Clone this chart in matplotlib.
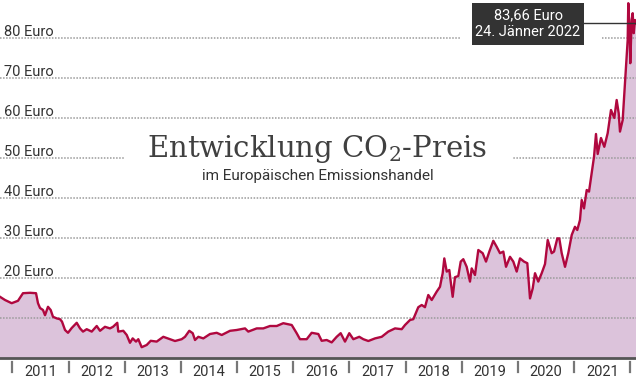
import matplotlib
matplotlib.use('Agg')
import matplotlib.pyplot as plt
from matplotlib.patches import Rectangle

# ---- data (decimal year, Euro per tonne) ----
dates = [2010.781, 2010.870, 2010.989, 2011.101, 2011.190, 2011.315, 2011.422, 2011.457,
         2011.493, 2011.546, 2011.582, 2011.635, 2011.683, 2011.724, 2011.790, 2011.849,
         2011.884, 2011.938, 2011.991, 2012.057, 2012.146, 2012.205, 2012.258, 2012.324,
         2012.413, 2012.502, 2012.561, 2012.649, 2012.738, 2012.792, 2012.868, 2012.886,
         2012.975, 2013.036, 2013.094, 2013.142, 2013.201, 2013.242, 2013.302, 2013.391,
         2013.463, 2013.569, 2013.687, 2013.806, 2013.895, 2014.014, 2014.073, 2014.149,
         2014.210, 2014.251, 2014.310, 2014.399, 2014.518, 2014.637, 2014.726, 2014.874,
         2014.993, 2015.141, 2015.199, 2015.349, 2015.466, 2015.585, 2015.705, 2015.822,
         2015.972, 2016.060, 2016.119, 2016.238, 2016.327, 2016.445, 2016.505, 2016.594,
         2016.683, 2016.772, 2016.843, 2016.920, 2016.996, 2017.068, 2017.174, 2017.246,
         2017.335, 2017.454, 2017.573, 2017.690, 2017.810, 2017.929, 2017.988, 2018.077,
         2018.135, 2018.166, 2018.224, 2018.285, 2018.343, 2018.402, 2018.463, 2018.552,
         2018.610, 2018.658, 2018.687, 2018.730, 2018.776, 2018.801, 2018.836, 2018.877,
         2018.936, 2018.979, 2019.025, 2019.085, 2019.144, 2019.174, 2019.233, 2019.292,
         2019.370, 2019.429, 2019.488, 2019.559, 2019.619, 2019.678, 2019.737, 2019.785,
         2019.856, 2019.915, 2019.975, 2020.034, 2020.105, 2020.164, 2020.212, 2020.260,
         2020.301, 2020.359, 2020.420, 2020.479, 2020.527, 2020.598, 2020.639, 2020.698,
         2020.733, 2020.776, 2020.835, 2020.893, 2020.954, 2021.012, 2021.053, 2021.101,
         2021.132, 2021.173, 2021.221, 2021.262, 2021.310, 2021.351, 2021.386, 2021.416,
         2021.475, 2021.534, 2021.594, 2021.653, 2021.712, 2021.754, 2021.790, 2021.813,
         2021.861, 2021.890, 2021.920, 2021.950, 2021.961, 2021.986, 2021.996, 2022.021,
         2022.039, 2022.057, 2022.080, 2022.098]
prices = [15.3, 14.5, 13.7, 14.3, 16.2, 16.3, 16.2, 13.7,
          12.5, 12.0, 10.7, 12.8, 12.0, 10.3, 9.9, 9.7,
          9.1, 7.0, 6.3, 7.5, 8.8, 7.4, 6.6, 7.2,
          6.6, 8.0, 6.8, 7.8, 7.4, 7.8, 8.8, 6.6,
          6.8, 5.75, 3.8, 4.9, 4.1, 4.7, 2.7, 3.25,
          4.3, 4.1, 5.3, 4.7, 4.25, 4.7, 5.3, 6.8,
          6.2, 4.5, 5.3, 4.9, 6.0, 6.3, 5.75, 6.8,
          7.0, 7.4, 6.6, 7.4, 7.4, 8.0, 8.0, 8.7,
          8.25, 6.2, 4.7, 4.7, 6.3, 6.0, 4.3, 4.5,
          3.9, 5.3, 6.2, 4.1, 6.2, 4.7, 5.3, 4.7,
          4.25, 4.9, 5.3, 6.6, 7.4, 7.2, 8.25, 9.5,
          9.7, 10.75, 12.7, 13.25, 12.7, 15.75, 14.5, 16.6,
          17.8, 21.2, 24.9, 21.6, 22.0, 19.1, 15.3, 20.2,
          20.5, 24.1, 24.7, 22.8, 19.1, 22.4, 20.75, 27.0,
          26.2, 24.1, 26.6, 29.3, 27.8, 26.2, 26.6, 22.8,
          25.3, 24.1, 21.6, 24.9, 24.1, 23.7, 14.9, 17.4,
          21.2, 19.1, 21.2, 23.5, 29.5, 26.2, 26.6, 29.9,
          29.9, 26.2, 22.8, 26.2, 30.75, 32.8, 32.0, 34.5,
          39.5, 37.4, 42.0, 41.6, 46.2, 50.3, 56.0, 51.0,
          55.0, 52.8, 56.2, 62.0, 60.0, 64.5, 61.2, 56.6,
          59.5, 66.2, 72.8, 79.5, 88.7, 81.2, 73.7, 84.5,
          86.2, 81.2, 84.5, 83.66]

years = [2011, 2012, 2013, 2014, 2015, 2016, 2017, 2018, 2019, 2020, 2021]
year_ticks = list(range(2011, 2023))
grid_values = [10, 20, 30, 40, 50, 60, 70, 80]
grid_labels = ['10 Euro', '20 Euro', '30 Euro', '40 Euro', '50 Euro', '60 Euro', '70 Euro', '80 Euro']

title = 'Entwicklung CO$_2$-Preis'
subtitle = 'im Europäischen Emissionshandel'
note_lines = '83,66 Euro\n24. Jänner 2022'

# ---- style ----
LINE = '#b0083f'
FILL = '#dcc3db'
GRID = '#9a9a9a'
TXT = '#333333'
plt.rcParams['font.family'] = ['Roboto', 'DejaVu Sans']
plt.rcParams['mathtext.fontset'] = 'dejavuserif'

W, H = 636, 382
fig = plt.figure(figsize=(W / 100, H / 100), dpi=100)
ax = fig.add_axes([0, 0, 1, 1])
ax.set_xlim(dates[0], dates[-1])
ax.set_ylim(-6, 89.5)
ax.axis('off')

def fx(px):
    return px / W

def fy(py):
    return 1 - py / H

ax.fill_between(dates, 0, prices, color=FILL, lw=0, zorder=1)

for v, lab in zip(grid_values, grid_labels):
    ax.axhline(v, color=GRID, lw=1.1, ls=(0, (1, 1)), zorder=2)
    if v >= 20:
        ax.text(0.006, v + 0.6, lab, transform=ax.get_yaxis_transform(),
                ha='left', va='baseline', fontsize=10.5, color=TXT, zorder=5)

# white gaps behind title and note box
ax.add_patch(Rectangle((fx(125), fy(165)), fx(513 - 125), (165 - 128) / H,
                       transform=fig.transFigure, fc='white', ec='none', zorder=3))
ax.add_patch(Rectangle((fx(461), fy(52)), fx(602 - 461), 52 / H,
                       transform=fig.transFigure, fc='white', ec='none', zorder=3))

ax.plot(dates, prices, color=LINE, lw=1.7, zorder=4, solid_joinstyle='round')

# baseline and year ticks
ax.axhline(0, color='#555555', lw=2.0, zorder=5)
for yv in year_ticks:
    ax.plot([yv, yv], [-0.9, -3.6], color='#777777', lw=1.6, zorder=5, clip_on=False)
for yv in years:
    ax.text(yv + 0.5, -3.6, str(yv), ha='center', va='center', fontsize=10.5, color=TXT)

# title
fig.text(fx(317), fy(157), title, ha='center', va='baseline', fontsize=21,
         family=['DejaVu Serif'], color='#404040', zorder=6)
fig.text(fx(318), fy(180), subtitle, ha='center', va='baseline', fontsize=11,
         color=TXT, zorder=6)

# annotation
ax.plot([dates[-1] - (636 - 584) / 56.2, dates[-1]], [prices[-1], prices[-1]],
        color='#333333', lw=1.0, zorder=6, clip_on=False)
ax.add_patch(Rectangle((fx(472), fy(45)), fx(112), 42 / H,
                       transform=fig.transFigure, fc='#333333', ec='none', zorder=7))
fig.text(fx(528), fy(24), note_lines, ha='center', va='center', fontsize=10.5,
         color='white', linespacing=1.25, zorder=8)

fig.savefig('out.png', dpi=100)
